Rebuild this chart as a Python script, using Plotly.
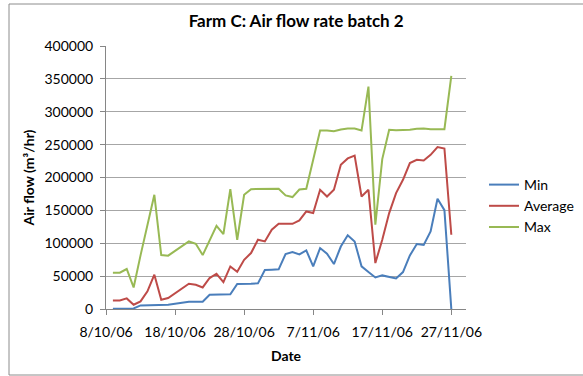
import plotly.graph_objects as go

# Sampling dates (batch 2, farm C)
dates = [
    "2006-10-09", "2006-10-10", "2006-10-11", "2006-10-12", "2006-10-13",
    "2006-10-14", "2006-10-15", "2006-10-16", "2006-10-17",
    "2006-10-20", "2006-10-21", "2006-10-22", "2006-10-23", "2006-10-24",
    "2006-10-25", "2006-10-26", "2006-10-27", "2006-10-28", "2006-10-29",
    "2006-10-30", "2006-10-31", "2006-11-01", "2006-11-02", "2006-11-03",
    "2006-11-04", "2006-11-05", "2006-11-06", "2006-11-07", "2006-11-08",
    "2006-11-09", "2006-11-10", "2006-11-11", "2006-11-12", "2006-11-13",
    "2006-11-14", "2006-11-15", "2006-11-16", "2006-11-17", "2006-11-18",
    "2006-11-19", "2006-11-20", "2006-11-21", "2006-11-22", "2006-11-23",
    "2006-11-24", "2006-11-25", "2006-11-26", "2006-11-27",
]

# Air flow, m3/hr
flow_min = [
    500, 500, 500, 800, 5500, 5500, 5800, 6000, 6600,
    11000, 11200, 11200, 21700, 22000, 22000, 22300, 38000, 37800, 38500,
    39000, 59300, 59800, 60300, 83600, 86600, 83000, 89100, 64800, 92700,
    84000, 68400, 95000, 112200, 102700, 64800, 56200, 48000, 51100, 49100,
    46500, 56200, 81500, 98800, 97300, 118000, 167600, 150400, 0,
]
flow_avg = [
    13100, 13100, 16100, 6500, 11600, 26800, 52100, 14100, 16700,
    38500, 36900, 32800, 47100, 53600, 41000, 64700, 56700, 74900, 85100,
    105300, 102700, 120500, 129600, 129600, 129600, 134700, 148300, 145900, 181300,
    171100, 181300, 219300, 229000, 233400, 171100, 181300, 69900, 105300, 145900,
    176300, 196500, 221900, 226900, 225800, 234500, 246200, 244100, 112900,
]
flow_max = [
    55200, 55200, 60800, 32800, 81500, 129000, 173700, 82000, 81100,
    102700, 99200, 82000, 104000, 126600, 114000, 182300, 105300, 173700, 182300,
    182300, 182300, 182500, 182800, 172700, 170200, 181800, 182800, 227000, 271400,
    271500, 270500, 273000, 274500, 274500, 271400, 338300, 128100, 228000, 272500,
    272000, 272000, 272500, 274000, 274500, 273500, 273500, 273500, 354600,
]

series_names = ["Min", "Average", "Max"]
series_colors = ["#4A7EBB", "#BE4B48", "#98B954"]

tick_dates = ["2006-10-08", "2006-10-18", "2006-10-28",
              "2006-11-07", "2006-11-17", "2006-11-27"]
tick_labels = ["8/10/06", "18/10/06", "28/10/06", "7/11/06", "17/11/06", "27/11/06"]

FONT = "Lato, 'Open Sans', sans-serif"
AXIS_GREY = "#868686"

fig = go.Figure()
for i, (name, values, colour) in enumerate(zip(series_names, [flow_min, flow_avg, flow_max], series_colors)):
    fig.add_trace(go.Scatter(
        x=dates, y=values, name=name, mode="lines",
        line=dict(color=colour, width=2),
        legendgroup=f"g{i}",
    ))

W, H = 583, 376
L, R, T, B = 106, 117, 46, 67

fig.update_layout(
    width=W, height=H,
    margin=dict(l=L, r=R, t=T, b=B, autoexpand=False),
    paper_bgcolor="white", plot_bgcolor="white",
    font=dict(family=FONT, size=14, color="#000000"),
    title=dict(
        text="<b>Farm C: Air flow rate batch 2</b>",
        x=0.508, xref="container", xanchor="center",
        y=1 - 21.5 / H, yref="container", yanchor="middle",
        font=dict(family=FONT, size=17, color="#000000"),
    ),
    showlegend=True,
    legend=dict(
        x=1.0 + (484 - (W - R)) / (W - L - R), xanchor="left",
        y=1 - (169 - T) / (H - T - B), yanchor="top",
        font=dict(family=FONT, size=14),
        tracegroupgap=0,
        bgcolor="rgba(0,0,0,0)",
    ),
    xaxis=dict(
        type="date",
        range=["2006-10-08", "2006-11-29 03:00"],
        tickvals=tick_dates, ticktext=tick_labels,
        showgrid=False, zeroline=False,
        showline=True, linecolor=AXIS_GREY, linewidth=1,
        ticks="outside", ticklen=5, tickcolor=AXIS_GREY,
        ticklabelstandoff=5,
        title=dict(text="<b>Date</b>", standoff=12, font=dict(family=FONT, size=14)),
    ),
    yaxis=dict(
        range=[0, 400000], dtick=50000, tickformat="d",
        showgrid=True, gridcolor="#a6a6a6", gridwidth=1,
        zeroline=False,
        showline=True, linecolor=AXIS_GREY, linewidth=1,
        ticks="outside", ticklen=5, tickcolor=AXIS_GREY,
        ticklabelstandoff=4,
        title=dict(text="<b>Air flow (m³/hr)</b>", standoff=6, font=dict(family=FONT, size=14)),
    ),
)

# chart-area frame (top and left edges visible)
pw, ph = W - L - R, H - T - B
fig.add_shape(
    type="rect", xref="paper", yref="paper",
    x0=(9 - L) / pw, x1=(W + 20 - L) / pw,
    y0=(H - T - (H + 20)) / ph, y1=(H - B - 4) / ph,
    line=dict(color="#8c8c8c", width=1), fillcolor="rgba(0,0,0,0)",
    layer="below",
)

fig.write_html("out.html")
